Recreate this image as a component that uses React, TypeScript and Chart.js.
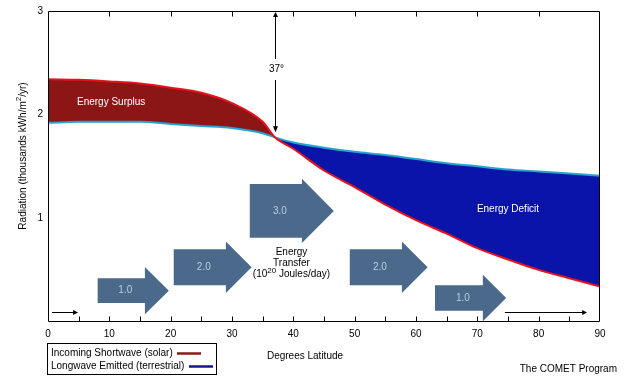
import React, { useEffect, useRef } from 'react';
import { Chart, registerables } from 'chart.js';

Chart.register(...registerables);

// ---- data ----
const latitude = [0, 5, 10, 15, 20, 25, 30, 35, 37, 40, 45, 50, 55, 60, 65, 70, 75, 80, 85, 90];
const incomingShortwave = [2.34, 2.335, 2.32, 2.3, 2.26, 2.21, 2.11, 1.93, 1.78, 1.67, 1.46, 1.3, 1.13, 0.98, 0.85, 0.71, 0.6, 0.5, 0.42, 0.34];
const longwaveEmitted = [1.92, 1.93, 1.93, 1.93, 1.91, 1.89, 1.87, 1.82, 1.78, 1.73, 1.68, 1.64, 1.61, 1.57, 1.53, 1.5, 1.47, 1.45, 1.43, 1.41];

// energy transfer arrows (latitude / radiation units)
const arrowTail = [8.1, 20.5, 32.9, 49.2, 63.1];
const arrowNeck = [15.8, 29.0, 41.4, 57.7, 70.9];
const arrowTip = [19.7, 33.2, 46.6, 61.9, 74.7];
const arrowMid = [0.3, 0.526, 1.07, 0.526, 0.229];
const arrowShaftHalf = [0.119, 0.173, 0.259, 0.173, 0.123];
const arrowHeadHalf = [0.227, 0.248, 0.31, 0.248, 0.224];
const arrowLabels = ['1.0', '2.0', '3.0', '2.0', '1.0'];

const seriesNames = ['Incoming Shortwave (solar)', 'Longwave Emitted (terrestrial)'];
const crossLatitude = 37;

const FONT = '"Liberation Sans", Arial, sans-serif';

const annotations = {
  id: 'annotations',
  afterDatasetsDraw(chart: any) {
    const { ctx, scales } = chart;
    const x = scales.x;
    const y = scales.y;
    ctx.save();
    // block arrows
    for (let i = 0; i < arrowTail.length; i++) {
      const x0 = x.getPixelForValue(arrowTail[i]);
      const xn = x.getPixelForValue(arrowNeck[i]);
      const xt = x.getPixelForValue(arrowTip[i]);
      const yc = y.getPixelForValue(arrowMid[i]);
      const sh = y.getPixelForValue(arrowMid[i] - arrowShaftHalf[i]) - yc;
      const hh = y.getPixelForValue(arrowMid[i] - arrowHeadHalf[i]) - yc;
      ctx.beginPath();
      ctx.moveTo(x0, yc - sh);
      ctx.lineTo(xn, yc - sh);
      ctx.lineTo(xn, yc - hh);
      ctx.lineTo(xt, yc);
      ctx.lineTo(xn, yc + hh);
      ctx.lineTo(xn, yc + sh);
      ctx.lineTo(x0, yc + sh);
      ctx.closePath();
      ctx.fillStyle = '#4b6a8b';
      ctx.fill();
      ctx.fillStyle = '#b8cce2';
      ctx.font = `10px ${FONT}`;
      ctx.textAlign = 'center';
      ctx.textBaseline = 'middle';
      ctx.fillText(arrowLabels[i], (x0 + xn) / 2 + 4, yc);
    }

    // small black arrows along the axis
    const smallArrow = (a: number, b: number, v: number) => {
      const xa = x.getPixelForValue(a);
      const xb = x.getPixelForValue(b);
      const yy = Math.round(y.getPixelForValue(v)) + 0.5;
      ctx.strokeStyle = '#000';
      ctx.lineWidth = 1;
      ctx.beginPath();
      ctx.moveTo(xa, yy);
      ctx.lineTo(xb - 3, yy);
      ctx.stroke();
      ctx.fillStyle = '#000';
      ctx.beginPath();
      ctx.moveTo(xb, yy);
      ctx.lineTo(xb - 5, yy - 2.5);
      ctx.lineTo(xb - 5, yy + 2.5);
      ctx.closePath();
      ctx.fill();
    };
    smallArrow(0.65, 4.9, 0.093);
    smallArrow(74.5, 87.9, 0.093);

    // vertical 37° arrow
    const vx = Math.round(x.getPixelForValue(crossLatitude)) + 0.5;
    const vTop = y.getPixelForValue(3);
    const vBot = y.getPixelForValue(1.83);
    const vMid = y.getPixelForValue(2.44);
    ctx.strokeStyle = '#000';
    ctx.lineWidth = 1;
    ctx.beginPath();
    ctx.moveTo(vx, vTop + 3);
    ctx.lineTo(vx, vMid - 10);
    ctx.moveTo(vx, vMid + 11);
    ctx.lineTo(vx, vBot - 3);
    ctx.stroke();
    ctx.fillStyle = '#000';
    ctx.beginPath();
    ctx.moveTo(vx, vTop + 1);
    ctx.lineTo(vx - 2.5, vTop + 6);
    ctx.lineTo(vx + 2.5, vTop + 6);
    ctx.closePath();
    ctx.fill();
    ctx.beginPath();
    ctx.moveTo(vx, vBot);
    ctx.lineTo(vx - 2.5, vBot - 6);
    ctx.lineTo(vx + 2.5, vBot - 6);
    ctx.closePath();
    ctx.fill();
    ctx.font = `10px ${FONT}`;
    ctx.textAlign = 'center';
    ctx.textBaseline = 'middle';
    ctx.fillText('37°', vx + 1, vMid);

    // region labels
    ctx.fillStyle = '#fff';
    ctx.font = `10px ${FONT}`;
    ctx.fillText('Energy Surplus', x.getPixelForValue(10.3), y.getPixelForValue(2.12));
    ctx.fillText('Energy Deficit', x.getPixelForValue(75.0), y.getPixelForValue(1.09));

    // energy transfer label
    ctx.fillStyle = '#000';
    const tx = x.getPixelForValue(39.7);
    ctx.fillText('Energy', tx, y.getPixelForValue(0.673));
    ctx.fillText('Transfer', tx, y.getPixelForValue(0.567));
    const ly = y.getPixelForValue(0.455);
    const p1 = '(10';
    const p2 = '20';
    const p3 = ' Joules/day)';
    ctx.font = `10px ${FONT}`;
    const w1 = ctx.measureText(p1).width;
    const w3 = ctx.measureText(p3).width;
    ctx.font = `8px ${FONT}`;
    const w2 = ctx.measureText(p2).width;
    let sx = tx - (w1 + w2 + w3) / 2;
    ctx.textAlign = 'left';
    ctx.font = `10px ${FONT}`;
    ctx.fillText(p1, sx, ly);
    sx += w1;
    ctx.font = `8px ${FONT}`;
    ctx.fillText(p2, sx, ly - 4);
    sx += w2;
    ctx.font = `10px ${FONT}`;
    ctx.fillText(p3, sx, ly);
    ctx.restore();
  },
  afterDraw(chart: any) {
    const { ctx, scales, chartArea: a } = chart;
    const x = scales.x;
    ctx.save();
    // frame
    ctx.strokeStyle = '#000';
    ctx.lineWidth = 1;
    const L = Math.round(a.left) + 0.5;
    const R = Math.round(a.right) - 0.5;
    const T = Math.round(a.top) + 0.5;
    const B = Math.round(a.bottom) - 0.5;
    ctx.beginPath();
    ctx.rect(L, T, R - L, B - T);
    ctx.stroke();
    // inner ticks
    ctx.beginPath();
    for (let v = 5; v < 90; v += 5) {
      const px = Math.round(x.getPixelForValue(v)) + 0.5;
      ctx.moveTo(px, B);
      ctx.lineTo(px, B - 5);
      if (v % 10 === 0) {
        ctx.moveTo(px, T);
        ctx.lineTo(px, T + 5);
      }
    }
    ctx.stroke();

    // axis titles
    ctx.fillStyle = '#000';
    ctx.textBaseline = 'middle';
    ctx.font = `10px ${FONT}`;
    ctx.textAlign = 'center';
    ctx.fillText('Degrees Latitude', 305, 356);

    ctx.save();
    ctx.translate(23, 156);
    ctx.rotate(-Math.PI / 2);
    const t1 = 'Radiation (thousands kWh/m';
    const t2 = '2';
    const t3 = '/yr)';
    ctx.font = `10px ${FONT}`;
    const a1 = ctx.measureText(t1).width;
    const a3 = ctx.measureText(t3).width;
    ctx.font = `8px ${FONT}`;
    const a2 = ctx.measureText(t2).width;
    let sx = -(a1 + a2 + a3) / 2;
    ctx.textAlign = 'left';
    ctx.font = `10px ${FONT}`;
    ctx.fillText(t1, sx, 0);
    sx += a1;
    ctx.font = `8px ${FONT}`;
    ctx.fillText(t2, sx, -4);
    sx += a2;
    ctx.font = `10px ${FONT}`;
    ctx.fillText(t3, sx, 0);
    ctx.restore();

    // legend box
    ctx.strokeStyle = '#000';
    ctx.lineWidth = 1;
    ctx.strokeRect(47.5, 343.5, 169, 31);
    ctx.font = `10px ${FONT}`;
    ctx.textAlign = 'left';
    ctx.fillStyle = '#000';
    ctx.fillText(seriesNames[0], 51, 353);
    ctx.fillText(seriesNames[1], 51, 366);
    ctx.lineWidth = 2.5;
    ctx.strokeStyle = '#8b1a1a';
    ctx.beginPath();
    ctx.moveTo(177, 353.5);
    ctx.lineTo(201, 353.5);
    ctx.stroke();
    ctx.strokeStyle = '#14149a';
    ctx.beginPath();
    ctx.moveTo(189, 366.5);
    ctx.lineTo(213, 366.5);
    ctx.stroke();

    // credit
    ctx.textAlign = 'right';
    ctx.font = `10px ${FONT}`;
    ctx.fillText('The COMET Program', 617, 369);
    ctx.restore();
  },
};

export default function App() {
  const ref = useRef<HTMLCanvasElement | null>(null);
  useEffect(() => {
    document.body.style.margin = '0';
    const canvas = ref.current;
    if (!canvas) return;
    const chart = new Chart(canvas, {
      type: 'line',
      data: {
        datasets: [
          {
            label: seriesNames[0],
            data: latitude.map((lat, i) => ({ x: lat, y: incomingShortwave[i] })),
            borderColor: '#e5121e',
            borderWidth: 2,
            pointRadius: 0,
            cubicInterpolationMode: 'monotone',
            fill: { target: 1, above: '#8c1616', below: '#0b14a8' },
          },
          {
            label: seriesNames[1],
            data: latitude.map((lat, i) => ({ x: lat, y: longwaveEmitted[i] })),
            borderColor: '#23a3cf',
            borderWidth: 2,
            pointRadius: 0,
            cubicInterpolationMode: 'monotone',
            fill: false,
          },
        ],
      },
      options: {
        responsive: false,
        animation: false,
        layout: { padding: { top: 9.5, right: 25, left: 0, bottom: 0 } },
        plugins: {
          legend: { display: false },
          tooltip: { enabled: false },
          filler: { drawTime: 'beforeDatasetsDraw' },
        },
        scales: {
          x: {
            type: 'linear',
            min: 0,
            max: 90,
            grid: { display: false, drawTicks: false },
            border: { display: false },
            ticks: {
              stepSize: 10,
              padding: 7,
              color: '#000',
              font: { family: FONT, size: 10 },
              maxRotation: 0,
            },
            afterFit: (s: any) => {
              s.height = 58.3;
            },
          },
          y: {
            type: 'linear',
            min: 0,
            max: 3,
            grid: { display: false, drawTicks: false },
            border: { display: false },
            ticks: {
              stepSize: 1,
              padding: 5,
              color: '#000',
              font: { family: FONT, size: 10 },
              callback: (v: any) => (v === 0 ? '' : String(v)),
            },
            afterFit: (s: any) => {
              s.width = 48;
            },
          },
        },
      },
      plugins: [annotations],
    });
    return () => chart.destroy();
  }, []);
  return (
    <div style={{ width: 625, height: 380, background: '#fff' }}>
      <canvas ref={ref} width={625} height={380} style={{ display: 'block' }} />
    </div>
  );
}
